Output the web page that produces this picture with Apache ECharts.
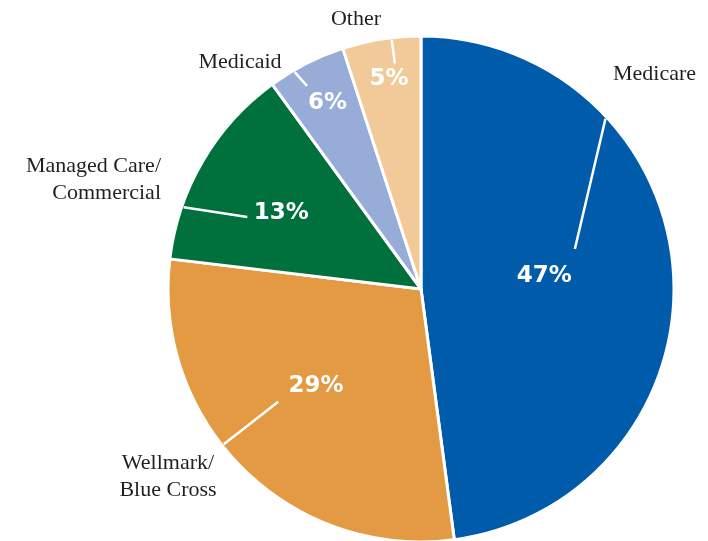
<!DOCTYPE html>
<html>
<head>
<meta charset="utf-8">
<script src="https://cdn.jsdelivr.net/npm/echarts@6/dist/echarts.min.js"></script>
<style>
html,body{margin:0;padding:0;background:#fff;}
#c{width:708px;height:541px;}
</style>
</head>
<body>
<div id="c"></div>
<script>
// ---- data ----
const categories = ['Medicare', 'Wellmark/\nBlue Cross', 'Managed Care/\nCommercial', 'Medicaid', 'Other'];
const shares = [47.9, 29.0, 13.1, 5.0, 5.0];
const pctLabels = ['47%', '29%', '13%', '6%', '5%'];

// ---- presentation ----
const colors = ['#005CAB', '#E39A43', '#00703C', '#98ACD8', '#F2C998'];
const CX = 421, CY = 289, R = 253;
// percent label placement (polar: angle clockwise from top, radius px)
const pctPlace = [
  {a: 83.8, r: 124},
  {a: 227.3, r: 143},
  {a: 298.5, r: 159},
  {a: 333.3, r: 208},
  {a: 351.3, r: 212}
];
// leader lines: [radius, angle] pairs from rim toward label
const leaderLines = [
  [[251, 47.3], [159, 75.4]],
  [[251, 231.8], [182, 231.7]],
  [[251, 289.0], [188, 292.5]],
  [[251, 329.8], [233, 330.7]],
  [[251, 353.3], [227, 353.4]]
];
// name label placement
const namePlace = [
  {x: 613, y: 74, align: 'left'},
  {x: 168, y: 477, align: 'center'},
  {x: 161, y: 180, align: 'right'},
  {x: 240, y: 62, align: 'center'},
  {x: 356, y: 19, align: 'center'}
];

function polar(a, r) {
  const t = a * Math.PI / 180;
  return [CX + r * Math.sin(t), CY - r * Math.cos(t)];
}

const dataMain = categories.map((c, i) => ({
  name: c,
  value: shares[i],
  itemStyle: {color: colors[i]}
}));
const dataNames = categories.map((c, i) => ({name: c, value: shares[i]}));

const leaderSeries = leaderLines.map(seg => ({
  type: 'line',
  coordinateSystem: 'polar',
  data: seg,
  symbol: 'none',
  silent: true,
  z: 5,
  lineStyle: {color: '#ffffff', width: 2.5},
  emphasis: {disabled: true}
}));

const chart = echarts.init(document.getElementById('c'), null, {renderer: 'canvas'});
chart.setOption({
  animation: false,
  backgroundColor: '#ffffff',
  polar: {center: [CX, CY], radius: R},
  angleAxis: {
    type: 'value', min: 0, max: 360, startAngle: 90, clockwise: true,
    axisLine: {show: false}, axisTick: {show: false}, axisLabel: {show: false}, splitLine: {show: false}
  },
  radiusAxis: {
    type: 'value', min: 0, max: R,
    axisLine: {show: false}, axisTick: {show: false}, axisLabel: {show: false}, splitLine: {show: false}
  },
  series: [
    {
      type: 'pie',
      center: [CX, CY],
      radius: [0, R],
      startAngle: 90,
      clockwise: true,
      avoidLabelOverlap: false,
      silent: true,
      data: dataNames,
      itemStyle: {color: 'rgba(255,255,255,0)', borderWidth: 0},
      label: {
        show: true,
        position: 'outside',
        color: '#231F20',
        fontFamily: 'Liberation Serif',
        fontSize: 22,
        lineHeight: 27,
        formatter: p => p.name
      },
      labelLine: {show: false},
      labelLayout: function (p) {
        const np = namePlace[p.dataIndex];
        return {x: np.x, y: np.y, align: np.align, verticalAlign: 'middle'};
      },
      emphasis: {disabled: true}
    },
    {
      type: 'pie',
      center: [CX, CY],
      radius: [0, R],
      startAngle: 90,
      clockwise: true,
      avoidLabelOverlap: false,
      silent: true,
      data: dataMain,
      itemStyle: {borderColor: '#ffffff', borderWidth: 3},
      label: {
        show: true,
        position: 'outside',
        color: '#ffffff',
        fontFamily: 'DejaVu Sans',
        fontWeight: 'bold',
        fontSize: 23,
        formatter: p => pctLabels[p.dataIndex]
      },
      labelLine: {show: false},
      labelLayout: function (p) {
        const pp = pctPlace[p.dataIndex];
        const pos = polar(pp.a, pp.r);
        return {x: pos[0], y: pos[1], align: 'center', verticalAlign: 'middle'};
      },
      emphasis: {disabled: true}
    }
  ].concat(leaderSeries)
});
</script>
</body>
</html>
